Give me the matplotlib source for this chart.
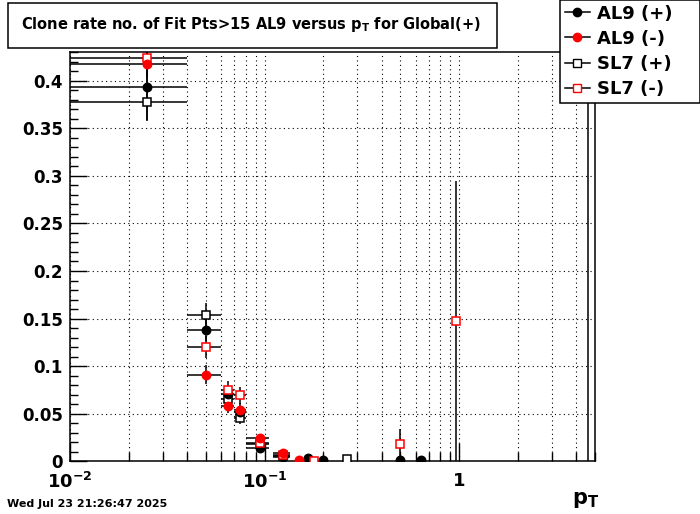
import numpy as np
import matplotlib
matplotlib.use('Agg')
import matplotlib.pyplot as plt
from matplotlib.lines import Line2D
from matplotlib.patches import Rectangle
from matplotlib.ticker import MultipleLocator, FixedLocator, LogLocator, NullFormatter

plt.rcParams['font.family'] = 'DejaVu Sans'
plt.rcParams['font.weight'] = 'bold'
plt.rcParams['mathtext.default'] = 'bf'

# AL9 (+)  black filled circles
al9p_x = [0.025, 0.05, 0.065, 0.075, 0.095, 0.125, 0.167, 0.2, 0.5, 0.64]
al9p_y = [0.394, 0.138, 0.071, 0.052, 0.014, 0.004, 0.003, 0.001, 0.0015, 0.0015]
al9p_ey = [0.035, 0.012, 0.008, 0.006, 0.004, 0.002, 0.002, 0.001, 0.001, 0.001]
al9p_lo = [0.01, 0.04, 0.06, 0.07, 0.08, 0.11, 0.16, 0.19, 0.48, 0.62]
al9p_hi = [0.04, 0.06, 0.07, 0.08, 0.105, 0.135, 0.175, 0.21, 0.52, 0.66]

# AL9 (-)  red filled circles
al9m_x = [0.025, 0.05, 0.065, 0.075, 0.095, 0.125, 0.151]
al9m_y = [0.418, 0.091, 0.058, 0.054, 0.024, 0.008, 0.001]
al9m_ey = [0.03, 0.01, 0.007, 0.007, 0.004, 0.003, 0.001]
al9m_lo = [0.01, 0.04, 0.06, 0.07, 0.08, 0.11, 0.145]
al9m_hi = [0.04, 0.06, 0.07, 0.08, 0.105, 0.135, 0.157]

# SL7 (+)  black open squares
sl7p_x = [0.025, 0.05, 0.065, 0.075, 0.095, 0.125, 0.267, 4.6]
sl7p_y = [0.378, 0.154, 0.065, 0.045, 0.018, 0.005, 0.002, 0.6]
sl7p_ey = [0.02, 0.012, 0.008, 0.006, 0.004, 0.002, 0.001, 0.6]
sl7p_lo = [0.01, 0.04, 0.06, 0.07, 0.08, 0.11, 0.26, 4.6]
sl7p_hi = [0.04, 0.06, 0.07, 0.08, 0.105, 0.135, 0.275, 4.6]

# SL7 (-)  red open squares
sl7m_x = [0.025, 0.05, 0.065, 0.075, 0.095, 0.125, 0.18, 0.5, 0.966]
sl7m_y = [0.424, 0.120, 0.075, 0.069, 0.019, 0.006, 0.0005, 0.0176, 0.147]
sl7m_ey = [0.02, 0.012, 0.009, 0.009, 0.004, 0.002, 0.001, 0.016, 0.148]
sl7m_lo = [0.01, 0.04, 0.06, 0.07, 0.08, 0.11, 0.175, 0.5, 0.966]
sl7m_hi = [0.04, 0.06, 0.07, 0.08, 0.105, 0.135, 0.185, 0.5, 0.966]

labels = ['AL9 (+)', 'AL9 (-)', 'SL7 (+)', 'SL7 (-)']

fig = plt.figure(figsize=(7, 5.14), dpi=100)
ax = fig.add_axes([0.1, 0.1031, 0.75, 0.7957])


def draw(x, y, ey, lo, hi, color, marker, fc):
    x = np.array(x); lo = np.array(lo); hi = np.array(hi)
    ax.errorbar(x, y, yerr=ey, xerr=[x - lo, hi - x], fmt='none',
                ecolor='k', elinewidth=1.1, capsize=0, zorder=3)
    ax.plot(x, y, ls='none', marker=marker, ms=6, mfc=fc, mec=color,
            mew=1.1, zorder=4)


draw(sl7p_x, sl7p_y, sl7p_ey, sl7p_lo, sl7p_hi, 'k', 's', 'white')
draw(al9p_x, al9p_y, al9p_ey, al9p_lo, al9p_hi, 'k', 'o', 'k')
draw(sl7m_x, sl7m_y, sl7m_ey, sl7m_lo, sl7m_hi, 'red', 's', 'white')
draw(al9m_x, al9m_y, al9m_ey, al9m_lo, al9m_hi, 'red', 'o', 'red')

ax.set_xscale('log')
ax.set_xlim(0.01, 5.0)
ax.set_ylim(0, 0.4305)

ax.xaxis.set_major_locator(FixedLocator([0.01, 0.1, 1]))
ax.set_xticklabels([r'$10^{-2}$', r'$10^{-1}$', r'$1$'])
ax.xaxis.set_minor_locator(LogLocator(base=10, subs=np.arange(2, 10)))
ax.xaxis.set_minor_formatter(NullFormatter())
ax.yaxis.set_minor_locator(MultipleLocator(0.01))
ax.set_yticks(np.arange(0, 0.41, 0.05))
ax.set_yticklabels(['0', '0.05', '0.1', '0.15', '0.2', '0.25', '0.3', '0.35', '0.4'])

ax.tick_params(axis='both', which='both', direction='in', colors='k',
               top=False, right=False, width=1.0)
ax.tick_params(axis='x', which='major', length=13, labelsize=13, pad=8)
ax.tick_params(axis='x', which='minor', length=6.5)
ax.tick_params(axis='y', which='major', length=12, labelsize=12, pad=5)
ax.tick_params(axis='y', which='minor', length=6)

ax.grid(True, which='major', axis='y', color='k', ls=(0, (1, 3)), lw=0.8)
ax.grid(True, which='both', axis='x', color='k', ls=(0, (1, 3)), lw=0.8)
for s in ax.spines.values():
    s.set_linewidth(1.1)

# title box
fig.patches.append(Rectangle((8 / 700, 1 - 48 / 514), 489 / 700, 45 / 514,
                             transform=fig.transFigure, fill=False,
                             ec='k', lw=1.1))
fig.text(251 / 700, 1 - 25 / 514,
         r'Clone rate no. of Fit Pts>15 AL9 versus $p_{T}$ for Global(+)',
         ha='center', va='center', fontsize=10.5, fontweight='bold')

handles = [
    Line2D([], [], color='k', lw=1.1, marker='o', ms=6, mfc='k', mec='k'),
    Line2D([], [], color='k', lw=1.1, marker='o', ms=6, mfc='red', mec='red'),
    Line2D([], [], color='k', lw=1.1, marker='s', ms=6, mfc='white', mec='k'),
    Line2D([], [], color='k', lw=1.1, marker='s', ms=6, mfc='white', mec='red'),
]
leg = fig.legend(handles, labels, loc='upper left',
                 bbox_to_anchor=(560 / 700, 1 - 100 / 514, 140 / 700, 100 / 514),
                 mode='expand', borderaxespad=0, fancybox=False,
                 edgecolor='k', framealpha=1, fontsize=13,
                 handlelength=1.4, handletextpad=0.4, labelspacing=0.4,
                 borderpad=0.25)
leg.get_frame().set_linewidth(1.1)

fig.text(572 / 700, 1 - 500 / 514, r'$p_{T}$', fontsize=15,
         ha='left', va='center')
fig.text(7 / 700, 1 - 504 / 514, 'Wed Jul 23 21:26:47 2025', fontsize=8,
         fontweight='bold', ha='left', va='center')

fig.savefig('out.png', dpi=100)
